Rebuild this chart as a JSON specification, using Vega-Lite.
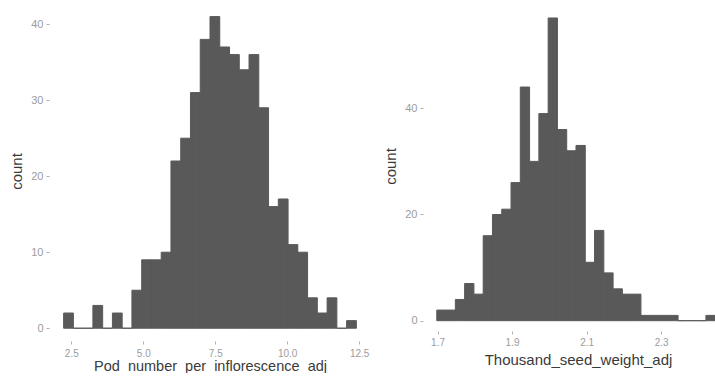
{
  "$schema": "https://vega.github.io/schema/vega-lite/v6.json",
  "background": "white",
  "padding": {"left": 9, "top": 1, "right": 0, "bottom": 0},
  "spacing": 12,
  "config": {
    "view": {"stroke": null},
    "axis": {
      "grid": false,
      "domain": false,
      "tickColor": "#b0b0b0",
      "tickSize": 3,
      "labelColor": "#9c9c9c",
      "labelFont": "Liberation Sans",
      "labelFontSize": 10,
      "labelPadding": 3,
      "titleFont": "Liberation Sans",
      "titleFontSize": 15,
      "titleFontWeight": "normal",
      "titleColor": "#3a3a3a"
    }
  },
  "datasets": {
    "pod": [
      {"start": 2.233, "end": 2.572, "count": 2},
      {"start": 2.572, "end": 2.911, "count": 0},
      {"start": 2.911, "end": 3.250, "count": 0},
      {"start": 3.250, "end": 3.589, "count": 3},
      {"start": 3.589, "end": 3.928, "count": 0},
      {"start": 3.928, "end": 4.267, "count": 2},
      {"start": 4.267, "end": 4.606, "count": 0},
      {"start": 4.606, "end": 4.945, "count": 5},
      {"start": 4.945, "end": 5.284, "count": 9},
      {"start": 5.284, "end": 5.623, "count": 9},
      {"start": 5.623, "end": 5.962, "count": 10},
      {"start": 5.962, "end": 6.301, "count": 22},
      {"start": 6.301, "end": 6.640, "count": 25},
      {"start": 6.640, "end": 6.979, "count": 31},
      {"start": 6.979, "end": 7.318, "count": 38},
      {"start": 7.318, "end": 7.657, "count": 41},
      {"start": 7.657, "end": 7.996, "count": 37},
      {"start": 7.996, "end": 8.335, "count": 36},
      {"start": 8.335, "end": 8.674, "count": 34},
      {"start": 8.674, "end": 9.013, "count": 36},
      {"start": 9.013, "end": 9.352, "count": 29},
      {"start": 9.352, "end": 9.691, "count": 16},
      {"start": 9.691, "end": 10.030, "count": 17},
      {"start": 10.030, "end": 10.369, "count": 11},
      {"start": 10.369, "end": 10.708, "count": 10},
      {"start": 10.708, "end": 11.047, "count": 4},
      {"start": 11.047, "end": 11.386, "count": 2},
      {"start": 11.386, "end": 11.725, "count": 4},
      {"start": 11.725, "end": 12.064, "count": 0},
      {"start": 12.064, "end": 12.403, "count": 1}
    ],
    "tsw": [
      {"start": 1.6980, "end": 1.7229, "count": 2},
      {"start": 1.7229, "end": 1.7478, "count": 2},
      {"start": 1.7478, "end": 1.7727, "count": 4},
      {"start": 1.7727, "end": 1.7976, "count": 7},
      {"start": 1.7976, "end": 1.8225, "count": 5},
      {"start": 1.8225, "end": 1.8474, "count": 16},
      {"start": 1.8474, "end": 1.8723, "count": 20},
      {"start": 1.8723, "end": 1.8972, "count": 21},
      {"start": 1.8972, "end": 1.9221, "count": 26},
      {"start": 1.9221, "end": 1.9470, "count": 44},
      {"start": 1.9470, "end": 1.9719, "count": 30},
      {"start": 1.9719, "end": 1.9968, "count": 39},
      {"start": 1.9968, "end": 2.0217, "count": 57},
      {"start": 2.0217, "end": 2.0466, "count": 36},
      {"start": 2.0466, "end": 2.0715, "count": 32},
      {"start": 2.0715, "end": 2.0964, "count": 33},
      {"start": 2.0964, "end": 2.1213, "count": 11},
      {"start": 2.1213, "end": 2.1462, "count": 17},
      {"start": 2.1462, "end": 2.1711, "count": 9},
      {"start": 2.1711, "end": 2.1960, "count": 6},
      {"start": 2.1960, "end": 2.2209, "count": 5},
      {"start": 2.2209, "end": 2.2458, "count": 5},
      {"start": 2.2458, "end": 2.2707, "count": 1},
      {"start": 2.2707, "end": 2.2956, "count": 1},
      {"start": 2.2956, "end": 2.3205, "count": 1},
      {"start": 2.3205, "end": 2.3454, "count": 1},
      {"start": 2.3454, "end": 2.3703, "count": 0},
      {"start": 2.3703, "end": 2.3952, "count": 0},
      {"start": 2.3952, "end": 2.4201, "count": 0},
      {"start": 2.4201, "end": 2.4450, "count": 1}
    ]
  },
  "hconcat": [
    {
      "width": 322,
      "height": 340,
      "data": {"name": "pod"},
      "mark": {"type": "bar", "color": "#595959", "stroke": "#595959", "strokeWidth": 1, "clip": true},
      "encoding": {
        "x": {
          "field": "start", "type": "quantitative",
          "scale": {"domain": [1.725, 12.911], "nice": false, "zero": false},
          "axis": {"values": [2.5, 5, 7.5, 10, 12.5], "format": ".1f", "title": "Pod_number_per_inflorescence_adj", "titlePadding": 1, "labelPadding": 4, "titleFontSize": 14.5}
        },
        "x2": {"field": "end"},
        "y": {
          "field": "count", "type": "quantitative",
          "scale": {"domain": [-1.68, 43.05], "nice": false, "zero": false},
          "axis": {"values": [0, 10, 20, 30, 40], "title": "count", "titlePadding": 6, "labelFontSize": 11}
        },
        "y2": {"datum": 0}
      }
    },
    {
      "width": 292,
      "height": 330,
      "data": {"name": "tsw"},
      "mark": {"type": "bar", "color": "#595959", "stroke": "#595959", "strokeWidth": 1, "clip": true},
      "encoding": {
        "x": {
          "field": "start", "type": "quantitative",
          "scale": {"domain": [1.661, 2.4445], "nice": false, "zero": false},
          "axis": {"values": [1.7, 1.9, 2.1, 2.3], "format": ".1f", "title": "Thousand_seed_weight_adj", "titlePadding": 5, "titleX": 155, "titleAlign": "center"}
        },
        "x2": {"field": "end"},
        "y": {
          "field": "count", "type": "quantitative",
          "scale": {"domain": [-1.94, 60.2], "nice": false, "zero": false},
          "axis": {"values": [0, 20, 40], "title": "count", "titlePadding": 6, "labelFontSize": 11}
        },
        "y2": {"datum": 0}
      }
    }
  ]
}
